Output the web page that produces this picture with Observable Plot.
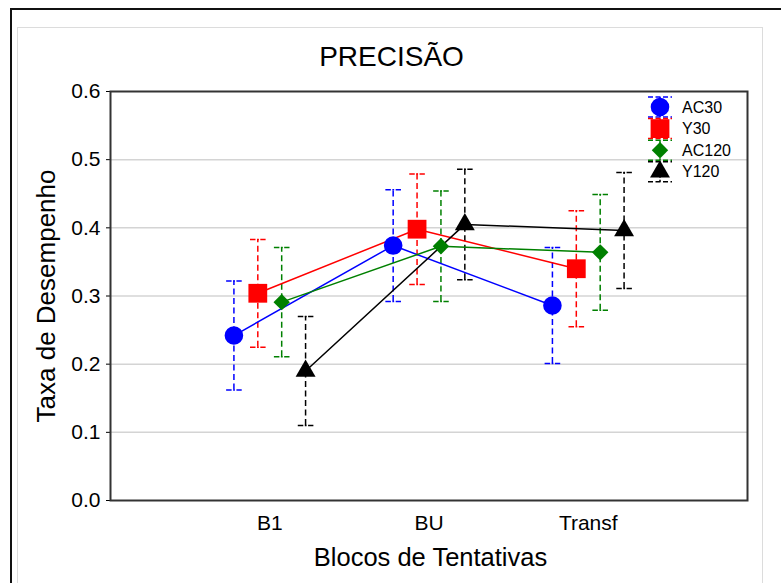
<!DOCTYPE html>
<html>
<head>
<meta charset="utf-8">
<script src="https://cdn.jsdelivr.net/npm/d3@7"></script>
<script src="https://cdn.jsdelivr.net/npm/@observablehq/plot@0.6"></script>
<style>
  html, body { margin: 0; padding: 0; background: #fff; }
  #page { position: relative; width: 781px; height: 583px; overflow: hidden; background: #fff; }
  #outer { position: absolute; left: 10px; top: 8px; width: 800px; height: 620px; border: 2px solid #111; box-sizing: border-box; }
  #inner { position: absolute; left: 17px; top: 27px; width: 746px; height: 620px; border: 1px solid #dcdcdc; box-sizing: border-box; }
  #chart { position: absolute; left: 0; top: 0; }
</style>
</head>
<body>
<div id="page">
  <div id="outer"></div>
  <div id="inner"></div>
  <div id="chart"></div>
</div>
<script>
// Blocks of trials (x categories)
const categories = ["B1", "BU", "Transf"];
// Groups
const seriesNames = ["AC30", "Y30", "AC120", "Y120"];

// Mean performance rate per block, by group
const meanAC30  = [0.242, 0.374, 0.286];
const meanY30   = [0.304, 0.398, 0.340];
const meanAC120 = [0.291, 0.373, 0.364];
const meanY120  = [0.190, 0.405, 0.396];

// Half-width of the error bars, by group
const errAC30  = [0.080, 0.082, 0.085];
const errY30   = [0.079, 0.081, 0.085];
const errAC120 = [0.080, 0.081, 0.085];
const errY120  = [0.080, 0.081, 0.085];

const yTicks = [0.0, 0.1, 0.2, 0.3, 0.4, 0.5, 0.6];

// Styling per group
const colors  = ["#0000ff", "#ff0000", "#008000", "#000000"];
const symbols = ["circle", "square", "diamond2", "triangle"];
const radii   = [9.3, 10.6, 7.4, 7.4];
const dodge   = [-0.225, -0.075, 0.075, 0.225];   // horizontal offset within a block
const capHalf = 0.049;

const means = [meanAC30, meanY30, meanAC120, meanY120];
const errs  = [errAC30, errY30, errAC120, errY120];

const rows = [];
seriesNames.forEach((s, si) => {
  categories.forEach((c, ci) => {
    const m = means[si][ci], e = errs[si][ci];
    rows.push({series: s, si, category: c, x: ci + 1 + dodge[si], mean: m, lo: m - e, hi: m + e});
  });
});

const font = "'Liberation Sans', Arial, Helvetica, sans-serif";
const barDash = "6,3.5";
const capDash = "5.5,1.5,1.8,1.5,6";

const marks = [
  Plot.ruleY(yTicks.filter(v => v > 0 && v < 0.6), {stroke: "#d4d4d4", strokeWidth: 1.5}),
  // error bars
  Plot.ruleX(rows, {x: "x", y1: "lo", y2: "hi", stroke: d => colors[d.si], strokeWidth: 1.5, strokeDasharray: barDash}),
  Plot.link(rows, {x1: d => d.x - capHalf, x2: d => d.x + capHalf, y1: "hi", y2: "hi", stroke: d => colors[d.si], strokeWidth: 1.5, strokeDasharray: capDash}),
  Plot.link(rows, {x1: d => d.x - capHalf, x2: d => d.x + capHalf, y1: "lo", y2: "lo", stroke: d => colors[d.si], strokeWidth: 1.5, strokeDasharray: capDash}),
];
// connecting lines and markers per group
seriesNames.forEach((s, si) => {
  const r = rows.filter(d => d.si === si);
  marks.push(Plot.line(r, {x: "x", y: "mean", stroke: colors[si], strokeWidth: 1.5}));
});
seriesNames.forEach((s, si) => {
  const r = rows.filter(d => d.si === si);
  marks.push(Plot.dot(r, {x: "x", y: "mean", fill: colors[si], stroke: "none", symbol: () => symbols[si], r: radii[si]}));
});
marks.push(
  Plot.frame({stroke: "#333", strokeWidth: 2}),
  Plot.text(["PRECISÃO"], {text: d => d, frameAnchor: "top", dx: -37.5, dy: -34, lineAnchor: "middle", textAnchor: "middle", fontSize: 28, fill: "#000"}),
  Plot.text(["Blocos de Tentativas"], {text: d => d, frameAnchor: "bottom", dx: 1.5, dy: 57, lineAnchor: "middle", textAnchor: "middle", fontSize: 25.5, fill: "#000"}),
  Plot.text(["Taxa de Desempenho"], {text: d => d, frameAnchor: "left", dx: -64, rotate: -90, lineAnchor: "middle", textAnchor: "middle", fontSize: 26, fill: "#000"})
);

const chart = Plot.plot({
  width: 781,
  height: 583,
  marginLeft: 110,
  marginRight: 34,
  marginTop: 91,
  marginBottom: 83,
  style: {fontFamily: font, fontSize: "21px", color: "#000", background: "transparent", overflow: "visible"},
  x: {domain: [0, 4], ticks: [1, 2, 3], tickFormat: i => categories[i - 1], tickSize: 0, tickPadding: 15, label: null},
  y: {domain: [0, 0.6], ticks: yTicks, tickFormat: d3.format(".1f"), tickSize: 4, tickPadding: 6, label: null},
  marks
});

// legend in the top-right corner of the plot frame
const svg = d3.select(chart);
const legend = svg.append("g").attr("font-family", font).attr("font-size", 16).attr("text-anchor", "start");
const frameRight = 781 - 34, frameTop = 91;
const symbolTypes = {circle: d3.symbolCircle, square: d3.symbolSquare, diamond2: d3.symbolDiamond2, triangle: d3.symbolTriangle};
seriesNames.forEach((s, si) => {
  const cx = frameRight - 87, cy = frameTop + 16 + si * 21.6;
  const g = legend.append("g").attr("transform", `translate(${cx},${cy})`);
  g.append("line").attr("x1", 0).attr("x2", 0).attr("y1", -10).attr("y2", 10)
    .attr("stroke", colors[si]).attr("stroke-width", 1.5).attr("stroke-dasharray", "4,2");
  for (const yy of [-10, 10]) {
    g.append("line").attr("x1", -12).attr("x2", 12).attr("y1", yy).attr("y2", yy)
      .attr("stroke", colors[si]).attr("stroke-width", 1.5).attr("stroke-dasharray", "5,2.5");
  }
  g.append("path").attr("d", d3.symbol(symbolTypes[symbols[si]], Math.PI * radii[si] * radii[si])())
    .attr("fill", colors[si]);
  legend.append("text").attr("x", cx + 22).attr("y", cy).attr("dy", "0.35em").attr("fill", "#000")
    .attr("text-anchor", "start").text(s);
});

document.getElementById("chart").appendChild(chart);
</script>
</body>
</html>
